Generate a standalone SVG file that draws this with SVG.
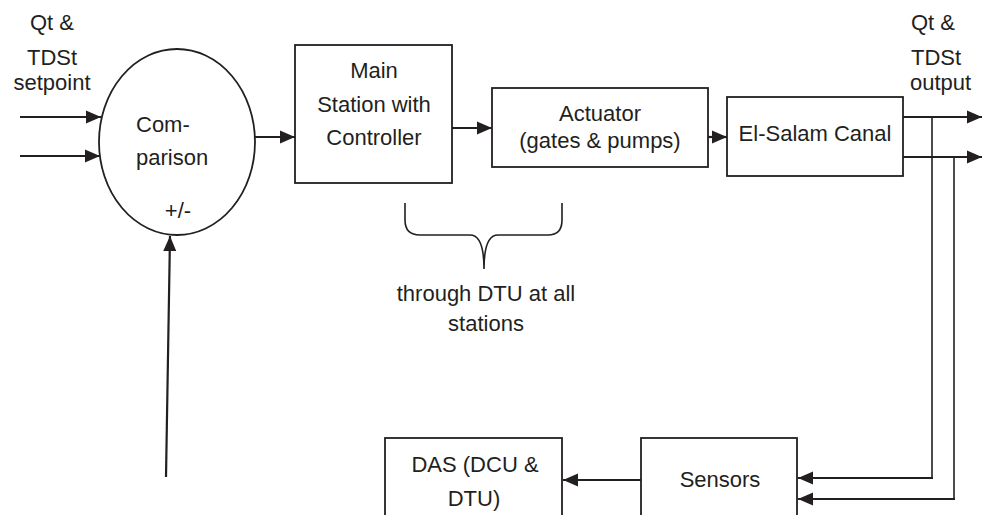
<svg xmlns="http://www.w3.org/2000/svg" width="983" height="515" viewBox="0 0 983 515">
<defs>
<style>
.box{fill:#fff;stroke:#231f20;stroke-width:1.8}
.ln{fill:none;stroke:#231f20;stroke-width:2.2}
.thin{fill:none;stroke:#231f20;stroke-width:1.6}
text{font-family:"Liberation Sans",Arial,sans-serif;font-size:22px;fill:#231f20}
.c{text-anchor:middle}
</style>
<marker id="ah" markerUnits="userSpaceOnUse" markerWidth="16" markerHeight="14" refX="15" refY="7" orient="auto">
<path d="M0,0.5 L15,7 L0,13.5 Z" fill="#231f20"/>
</marker>
</defs>
<rect width="983" height="515" fill="#fff"/>
<g id="labels">
<text class="c" x="52" y="30">Qt &amp;</text>
<text class="c" x="52" y="65">TDSt</text>
<text class="c" x="52" y="90">setpoint</text>
<text x="911" y="30">Qt &amp;</text>
<text x="911" y="65">TDSt</text>
<text x="910" y="90">output</text>
</g>
<g id="comparison">
<ellipse cx="177" cy="142" rx="78" ry="93" class="box"/>
<text x="136" y="132">Com-</text>
<text x="136" y="165">parison</text>
<text class="c" x="178" y="218">+/-</text>
</g>
<g id="main-station">
<rect x="295" y="45" width="157" height="138" class="box"/>
<text class="c" x="374" y="78">Main</text>
<text class="c" x="374" y="112">Station with</text>
<text class="c" x="374" y="145">Controller</text>
</g>
<g id="actuator">
<rect x="492" y="88" width="216" height="79" class="box"/>
<text class="c" x="600" y="121">Actuator</text>
<text class="c" x="600" y="148">(gates &amp; pumps)</text>
</g>
<g id="canal">
<rect x="727" y="97" width="176" height="79" class="box"/>
<text class="c" x="815" y="141">El-Salam Canal</text>
</g>
<g id="das">
<rect x="385" y="438" width="177" height="100" class="box"/>
<text class="c" x="475" y="472">DAS (DCU &amp;</text>
<text class="c" x="474" y="506">DTU)</text>
</g>
<g id="sensors">
<rect x="641" y="438" width="156" height="100" class="box"/>
<text class="c" x="720" y="487">Sensors</text>
</g>
<g id="dtu-note">
<path class="thin" d="M405,203 L405,220 Q405,235 420,235 L470,235 Q484,235 484,269 Q484,235 498,235 L548,235 Q562,235 562,220 L562,203"/>
<text class="c" x="486" y="301">through DTU at all</text>
<text class="c" x="486" y="331">stations</text>
</g>
<g id="connectors">
<line class="ln" x1="20" y1="117" x2="101" y2="117" marker-end="url(#ah)"/>
<line class="ln" x1="20" y1="156" x2="100" y2="156" marker-end="url(#ah)"/>
<line class="ln" x1="255" y1="137" x2="295" y2="137" marker-end="url(#ah)"/>
<line class="ln" x1="452" y1="128" x2="492" y2="128" marker-end="url(#ah)"/>
<line class="ln" x1="708" y1="137" x2="727" y2="137" marker-end="url(#ah)"/>
<line class="ln" x1="903" y1="117" x2="982" y2="117" marker-end="url(#ah)"/>
<line class="ln" x1="903" y1="157" x2="982" y2="157" marker-end="url(#ah)"/>
<polyline class="thin" points="932,117 932,478"/>
<polyline class="thin" points="954,157 954,499"/>
<line class="ln" x1="933" y1="478" x2="798" y2="478" marker-end="url(#ah)"/>
<line class="ln" x1="955" y1="499" x2="798" y2="499" marker-end="url(#ah)"/>
<line class="ln" x1="641" y1="480" x2="563" y2="480" marker-end="url(#ah)"/>
<line class="ln" x1="166" y1="477" x2="170" y2="236" marker-end="url(#ah)"/>
</g>
</svg>
